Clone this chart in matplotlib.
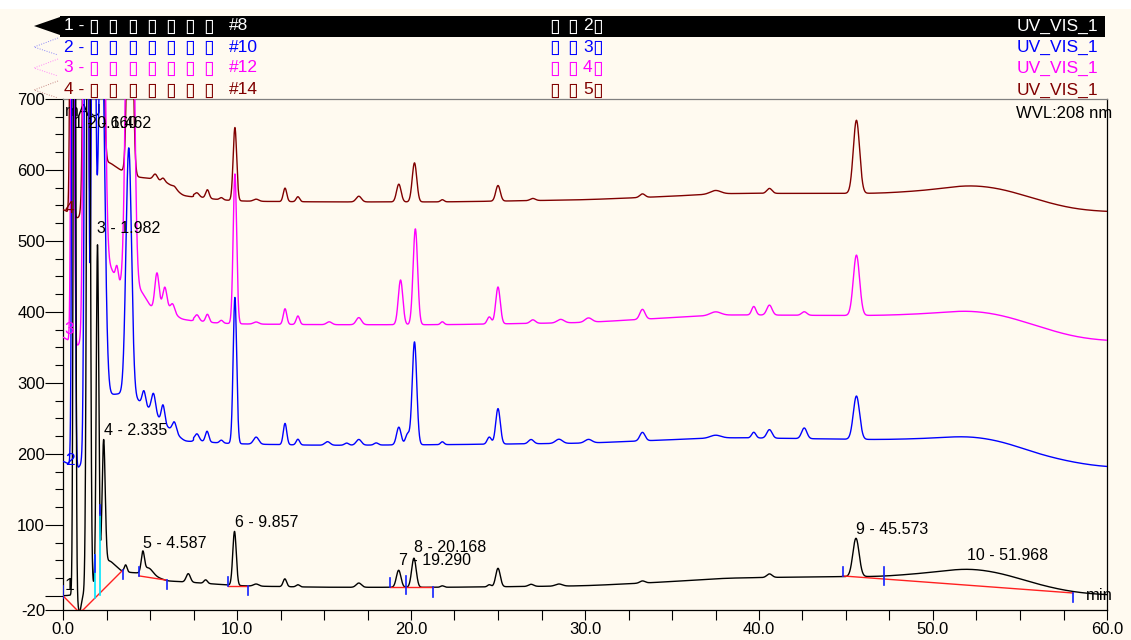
import numpy as np
import matplotlib
matplotlib.use("Agg")
import matplotlib.pyplot as plt
from matplotlib.patches import Rectangle, Polygon
from matplotlib.lines import Line2D

plt.rcParams['font.family'] = ['Liberation Sans', 'DejaVu Sans']

# ---------------- data ----------------
trace_names = ["1", "2", "3", "4"]
sample_ids = ["#8", "#10", "#12", "#14"]
mid_numbers = ["2", "3", "4", "5"]
channel = "UV_VIS_1"
trace_colors = ["#000000", "#0000FF", "#FF00FF", "#800000"]

# baselines (knots)
base1_t = [0, 1.5, 2.6, 3.4, 4.3, 5.2, 6.0, 8.0, 10, 15, 22, 30, 35, 38, 44, 47, 50, 52, 54, 56, 58, 60]
base1_v = [0, 3, 52, 34, 32, 28, 21, 18, 14, 12, 12, 14, 20, 25, 27, 27, 33, 40, 32, 16, 5, 1]
base2_t = [0, 0.9, 2.0, 2.6, 3.4, 4.3, 5.0, 6.0, 7.0, 10, 15, 22, 30, 35, 38, 44, 47, 50, 52, 54, 56, 58, 60]
base2_v = [190, 178, 240, 283, 285, 276, 262, 238, 218, 214, 212, 213, 215, 220, 223, 221, 220, 222, 226, 218, 200, 188, 181]
base3_t = [0, 0.9, 2.0, 2.6, 3.3, 4.5, 5.1, 6.0, 6.8, 8, 10, 15, 22, 30, 35, 38, 44, 47, 50, 52, 54, 56, 58, 60]
base3_v = [365, 350, 430, 470, 435, 430, 405, 405, 390, 385, 383, 382, 382, 385, 392, 396, 395, 395, 398, 403, 396, 380, 365, 359]
base4_t = [0, 0.9, 2.0, 2.6, 3.3, 4.3, 5.0, 6.0, 6.9, 8, 10, 15, 22, 30, 35, 38, 44, 47, 50, 52, 54, 56, 58, 60]
base4_v = [545, 530, 600, 612, 600, 590, 588, 582, 564, 560, 556, 555, 555, 558, 563, 567, 567, 567, 572, 580, 574, 558, 545, 541]

# peak tables: retention time, height above baseline, width
p1_rt = [0.66, 0.95, 1.462, 1.982, 2.335, 3.6, 4.587, 4.9, 7.2, 8.2, 9.857, 11.1, 12.75, 13.5, 17.0, 19.29, 20.168, 21.8, 24.5, 25.0, 26.9, 28.5, 33.3, 40.6, 45.573]
p1_h = [1400, -24, 1400, 470, 180, 10, 28, 10, 12, 5, 76, 3, 11, 3, 6, 24, 41, 2, 3, 26, 3, 3, 3, 5, 54]
p1_w = [0.06, 0.1, 0.085, 0.07, 0.09, 0.08, 0.09, 0.25, 0.12, 0.1, 0.1, 0.15, 0.1, 0.1, 0.15, 0.13, 0.13, 0.1, 0.1, 0.13, 0.15, 0.2, 0.15, 0.15, 0.18]

p2_rt = [0.6, 1.35, 1.75, 2.2, 3.78, 4.65, 5.2, 5.75, 6.4, 7.7, 8.28, 9.1, 9.88, 11.1, 12.76, 13.5, 15.2, 16.3, 17.0, 18.0, 19.3, 19.8, 20.2, 21.8, 24.5, 25.0, 26.9, 28.5, 30.2, 33.3, 37.5, 39.7, 40.6, 42.6, 45.6]
p2_h = [1400, 1400, 1000, 600, 350, 20, 28, 25, 15, 9, 15, 4, 206, 10, 30, 8, 5, 3, 8, 3, 25, 15, 145, 4, 10, 50, 6, 6, 5, 12, 4, 8, 12, 15, 61]
p2_w = [0.07, 0.09, 0.1, 0.18, 0.16, 0.1, 0.12, 0.1, 0.12, 0.12, 0.1, 0.1, 0.1, 0.15, 0.1, 0.1, 0.15, 0.12, 0.15, 0.12, 0.13, 0.12, 0.13, 0.1, 0.12, 0.13, 0.15, 0.2, 0.2, 0.15, 0.3, 0.12, 0.15, 0.15, 0.18]

p3_rt = [0.55, 1.3, 1.8, 2.25, 3.1, 3.85, 5.4, 5.85, 6.3, 7.7, 8.3, 9.1, 9.88, 11.1, 12.76, 13.5, 15.3, 17.0, 19.4, 20.25, 21.8, 24.5, 25.0, 27.0, 28.6, 30.2, 33.3, 37.5, 39.7, 40.6, 42.6, 45.6]
p3_h = [1200, 1400, 1000, 600, 20, 900, 50, 30, 12, 8, 11, 4, 211, 3, 22, 12, 4, 10, 63, 135, 4, 10, 52, 5, 5, 6, 14, 5, 12, 14, 5, 85]
p3_w = [0.07, 0.1, 0.12, 0.15, 0.08, 0.18, 0.12, 0.12, 0.12, 0.12, 0.1, 0.1, 0.1, 0.15, 0.1, 0.1, 0.15, 0.15, 0.13, 0.13, 0.1, 0.12, 0.13, 0.15, 0.2, 0.2, 0.15, 0.3, 0.12, 0.15, 0.15, 0.18]

p4_rt = [0.5, 1.3, 1.75, 2.2, 3.85, 5.3, 5.75, 6.4, 7.7, 8.3, 9.1, 9.88, 11.1, 12.76, 13.5, 17.0, 19.3, 20.2, 21.8, 25.0, 27.0, 33.3, 37.5, 40.6, 45.6]
p4_h = [1000, 1000, 800, 400, 500, 8, 5, 3, 5, 12, 3, 103, 3, 19, 7, 8, 25, 55, 3, 22, 3, 5, 5, 7, 103]
p4_w = [0.07, 0.1, 0.1, 0.12, 0.13, 0.12, 0.1, 0.12, 0.12, 0.1, 0.1, 0.1, 0.15, 0.1, 0.1, 0.15, 0.13, 0.13, 0.1, 0.13, 0.15, 0.15, 0.3, 0.15, 0.18]

# integrated peaks of trace 1
peak_ids = [1, 2, 3, 4, 5, 6, 7, 8, 9, 10]
peak_rts = [0.660, 1.462, 1.982, 2.335, 4.587, 9.857, 19.290, 20.168, 45.573, 51.968]
label_y = [659, 659, 511, 227, 67, 97, 43, 62, 87, 50]

# integration baselines (red) and delimiters
red_t = [[0, 0.8], [0.8, 1.15], [1.15, 3.43], [4.38, 5.96], [9.46, 10.63], [18.8, 21.25], [44.8, 58.03]]
red_v = [[0, -20], [-20, -20], [-20, 36], [28, 22], [14, 14], [12, 12], [28, 4]]
drop_t = [1.84, 2.13]
drop_lo = [-3, 1]
drop_hi = [57, 114]
tick_t = [0, 1.84, 2.13, 3.43, 4.38, 5.96, 9.46, 10.63, 18.8, 19.7, 21.25, 44.8, 47.2, 58.03]
tick_lo = [-3, 33, 114, 23, 28, 10, 14, 1, 12, 3, -2, 28, 15, -9]
tick_hi = [14, 57, 128, 36, 40, 22, 27, 14, 25, 28, 12, 40, 40, 4]

marker_y = [15, 191, 375, 546]

x_major = [0, 10, 20, 30, 40, 50, 60]
y_major = [-20, 0, 100, 200, 300, 400, 500, 600, 700]
y_labels = ["-20", "", "100", "200", "300", "400", "500", "600", "700"]

# ---------------- figure ----------------
W, H = 1131, 640
cream = "#FFFAF0"
fig = plt.figure(figsize=(W / 100, H / 100), dpi=100, facecolor=cream)


def fx(x):
    return x / W


def fy(y):
    return 1 - y / H


ax = fig.add_axes([fx(63), fy(610), (1107 - 63) / W, (610 - 99) / H])
ax.set_facecolor(cream)

dt = 0.0025
t = np.arange(0, 60 + dt / 2, dt)


def smooth(y, sigma):
    n = int(4 * sigma / dt)
    k = np.exp(-0.5 * ((np.arange(-n, n + 1) * dt) / sigma) ** 2)
    k /= k.sum()
    yp = np.concatenate([np.full(n, y[0]), y, np.full(n, y[-1])])
    return np.convolve(yp, k, mode="valid")


def make_trace(bt, bv, rts, hs, ws):
    b = np.interp(t, bt, bv)
    b = np.where(t < 7.5, smooth(b, 0.12), smooth(b, 0.9))
    y = b.copy()
    for rt, h, w in zip(rts, hs, ws):
        y = y + h * np.exp(-0.5 * ((t - rt) / w) ** 2)
    return y


traces = [
    make_trace(base1_t, base1_v, p1_rt, p1_h, p1_w),
    make_trace(base2_t, base2_v, p2_rt, p2_h, p2_w),
    make_trace(base3_t, base3_v, p3_rt, p3_h, p3_w),
    make_trace(base4_t, base4_v, p4_rt, p4_h, p4_w),
]

for i in [3, 2, 1, 0]:
    ax.plot(t, traces[i], color=trace_colors[i], lw=1.0, zorder=3 + (3 - i))

# integration marks
for rt_pair, v_pair in zip(red_t, red_v):
    ax.plot(rt_pair, v_pair, color="#FF2020", lw=1.0, zorder=7)
for tt, lo, hi in zip(drop_t, drop_lo, drop_hi):
    ax.plot([tt, tt], [lo, hi], color="#00E5FF", lw=1.2, zorder=7)
for tt, lo, hi in zip(tick_t, tick_lo, tick_hi):
    ax.plot([tt, tt], [lo, hi], color="#1020FF", lw=1.2, zorder=8)

# peak labels
for pid, rt, ly in zip(peak_ids, peak_rts, label_y):
    ax.text(rt, ly, f"{pid} - {rt:.3f}", fontsize=11.5, ha="left", va="baseline",
            color="black", zorder=9)

# trace markers
for name, col, my in zip(trace_names, trace_colors, marker_y):
    ax.text(0.1, my, name, fontsize=12.5, color=col, ha="left", va="center", zorder=9)

ax.set_xlim(0, 60)
ax.set_ylim(-20, 700)
ax.set_xticks(x_major)
ax.set_xticklabels([f"{v:.1f}" for v in x_major])
ax.set_xticks(np.arange(0, 60.01, 2.5), minor=True)
ax.set_yticks(y_major)
ax.set_yticklabels(y_labels)
ax.set_yticks(np.arange(0, 701, 25), minor=True)
ax.tick_params(axis="y", which="major", length=13, width=0.8, pad=0, labelsize=12)
ax.tick_params(axis="y", which="minor", length=6, width=0.8)
ax.tick_params(axis="x", which="both", length=7, width=0.8, pad=2, labelsize=12)
for s in ["left", "bottom", "right"]:
    ax.spines[s].set_color("black")
    ax.spines[s].set_linewidth(0.9)
ax.spines["top"].set_color("#808080")
ax.spines["top"].set_linewidth(0.9)

ax.text(0.002, 0.975, "mAU", transform=ax.transAxes, fontsize=12, ha="left", va="center")
ax.text(0.9795, 0.028, "min", transform=ax.transAxes, fontsize=12, ha="left", va="center")
fig.text(fx(1112), fy(113), "WVL:208 nm", fontsize=12, ha="right", va="center")

# ---------------- header ----------------
fig.patches.append(Rectangle((0, fy(9)), 1, 9 / H, transform=fig.transFigure,
                             facecolor="white", edgecolor="none", zorder=0))
row_y = [26, 47, 68, 90]
fig.patches.append(Rectangle((fx(60), fy(37)), (1105 - 60) / W, 21 / H,
                             transform=fig.transFigure, facecolor="black",
                             edgecolor="none", zorder=1))
fig.patches.append(Polygon([(fx(34), fy(26)), (fx(60), fy(17)), (fx(60), fy(35))],
                           closed=True, transform=fig.transFigure, facecolor="black",
                           edgecolor="none", zorder=1))
tofu_x = [94, 113, 133, 152, 171, 190, 209]
tofu_kw = dict(ha="center", fontsize=14, family="DejaVu Sans")
for i, ry in enumerate(row_y):
    col = "white" if i == 0 else trace_colors[i]
    if i > 0:
        fig.lines.append(Line2D([fx(58), fx(34), fx(58)], [fy(ry - 9), fy(ry), fy(ry + 8)],
                                transform=fig.transFigure, color=trace_colors[i],
                                lw=0.7, ls=(0, (1, 1.5)), alpha=0.45))
    kw = dict(color=col, va="center", zorder=5)
    fig.text(fx(64), fy(ry), f"{trace_names[i]} -", ha="left", fontsize=12.5, **kw)
    for tx in tofu_x:
        fig.text(fx(tx), fy(ry), "\u25AF", **tofu_kw, **kw)
    fig.text(fx(229), fy(ry), sample_ids[i], ha="left", fontsize=12.5, **kw)
    fig.text(fx(555), fy(ry), "\u25AF", **tofu_kw, **kw)
    fig.text(fx(573), fy(ry), "\u25AF", **tofu_kw, **kw)
    fig.text(fx(583), fy(ry), mid_numbers[i], ha="left", fontsize=12.5, **kw)
    fig.text(fx(598), fy(ry), "\u25AF", **tofu_kw, **kw)
    fig.text(fx(1098), fy(ry), channel, ha="right", fontsize=12.5, **kw)

fig.savefig("out.png", dpi=100, facecolor=cream)
